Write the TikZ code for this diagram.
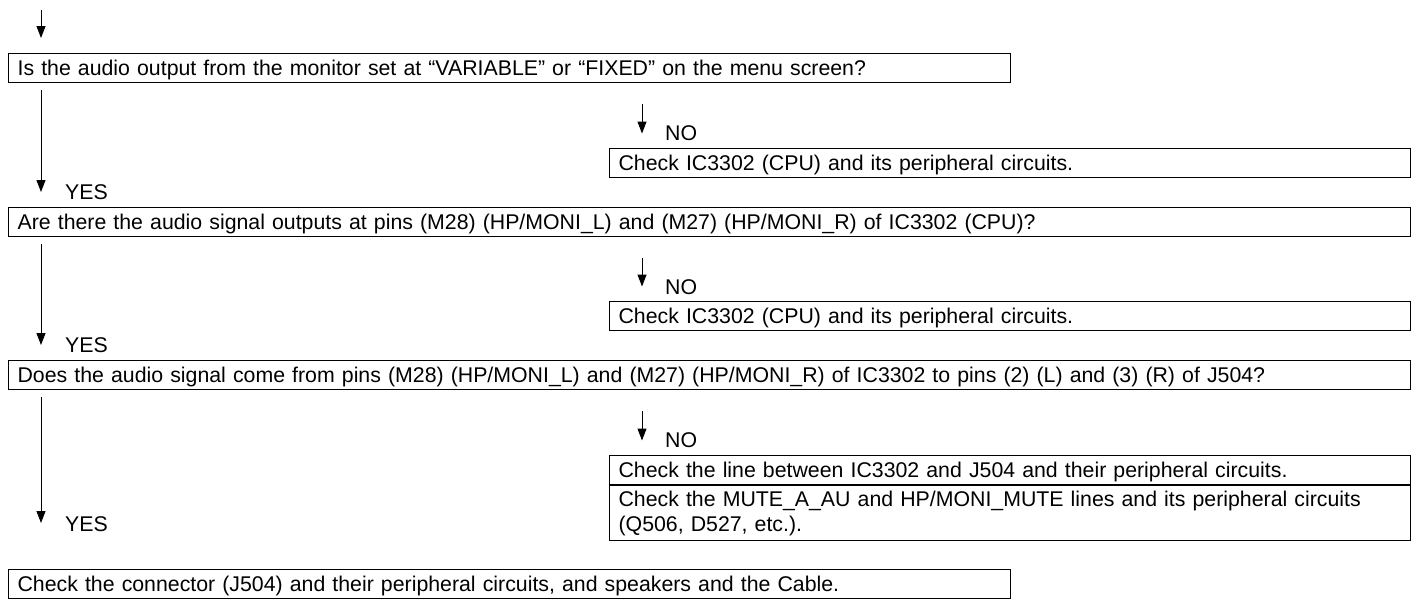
\documentclass[tikz,border=0pt]{standalone}
\usepackage{fontspec}
\setmainfont{Liberation Sans}
\usetikzlibrary{arrows.meta}
\begin{document}
\begin{tikzpicture}[x=1pt,y=-1pt,
  box/.style={draw=black, line width=1.2pt, anchor=north west, inner xsep=9pt, inner ysep=0pt,
    align=left, font=\fontsize{21.3}{25}\selectfont},
  one/.style={text height=16pt, text depth=1pt, minimum height=29pt},
  lbl/.style={font=\fontsize{21.3}{25}\selectfont, inner sep=0pt, anchor=west},
  arr/.style={line width=1pt, -{Triangle[length=12pt,width=9pt]}}
]
\useasboundingbox (0,0) rectangle (1419,608);

% main column
\node[box, one, text width=984pt] (b1) at (8,53) {Is the audio output from the monitor set at “VARIABLE” or “FIXED” on the menu screen?};
\node[box, one, text width=1384pt] (b2) at (8,207) {Are there the audio signal outputs at pins (M28) (HP/MONI\_L) and (M27) (HP/MONI\_R) of IC3302 (CPU)?};
\node[box, one, text width=1384pt] (b3) at (8,360) {Does the audio signal come from pins (M28) (HP/MONI\_L) and (M27) (HP/MONI\_R) of IC3302 to pins (2) (L) and (3) (R) of J504?};
\node[box, one, text width=984pt] (b4) at (8,569) {Check the connector (J504) and their peripheral circuits, and speakers and the Cable.};

% check column
\node[box, one, text width=783pt] (c1) at (609,148) {Check IC3302 (CPU) and its peripheral circuits.};
\node[box, one, text width=783pt] (c2) at (609,301) {Check IC3302 (CPU) and its peripheral circuits.};
\node[box, one, text width=783pt] (c3a) at (609,455) {Check the line between IC3302 and J504 and their peripheral circuits.};
\node[box, text width=783pt, minimum height=55pt] (c3b) at (c3a.south west) {Check the MUTE\_A\_AU and HP/MONI\_MUTE lines and its peripheral circuits\\(Q506, D527, etc.).};

% entry arrow
\coordinate (start) at (41,10);
\draw[arr, shorten >=15pt] (start) -- ([xshift=33pt]b1.north west);

% YES arrows
\draw[arr, shorten <=7pt, shorten >=15pt] ([xshift=33pt]b1.south west) -- ([xshift=33pt]b2.north west);
\draw[arr, shorten <=7pt, shorten >=15pt] ([xshift=33pt]b2.south west) -- ([xshift=33pt]b3.north west);
\draw[arr, shorten <=7pt, shorten >=46pt] ([xshift=33pt]b3.south west) -- ([xshift=33pt]b4.north west);
\node[lbl] (yes1) at (65,192) {YES};
\node[lbl] (yes2) at (65,345) {YES};
\node[lbl] (yes3) at (65,524) {YES};

% NO arrows
\coordinate (n1) at ([xshift=33pt]c1.north west);
\coordinate (n2) at ([xshift=33pt]c2.north west);
\coordinate (n3) at ([xshift=33pt]c3a.north west);
\draw[arr, shorten <=21pt, shorten >=14.5pt] (b1.south -| n1) -- (n1);
\draw[arr, shorten <=21pt, shorten >=14.5pt] (b2.south -| n2) -- (n2);
\draw[arr, shorten <=21pt, shorten >=14.5pt] (b3.south -| n3) -- (n3);
\node[lbl] (no1) at (665,133) {NO};
\node[lbl] (no2) at (665,287) {NO};
\node[lbl] (no3) at (665,440) {NO};
\end{tikzpicture}
\end{document}
